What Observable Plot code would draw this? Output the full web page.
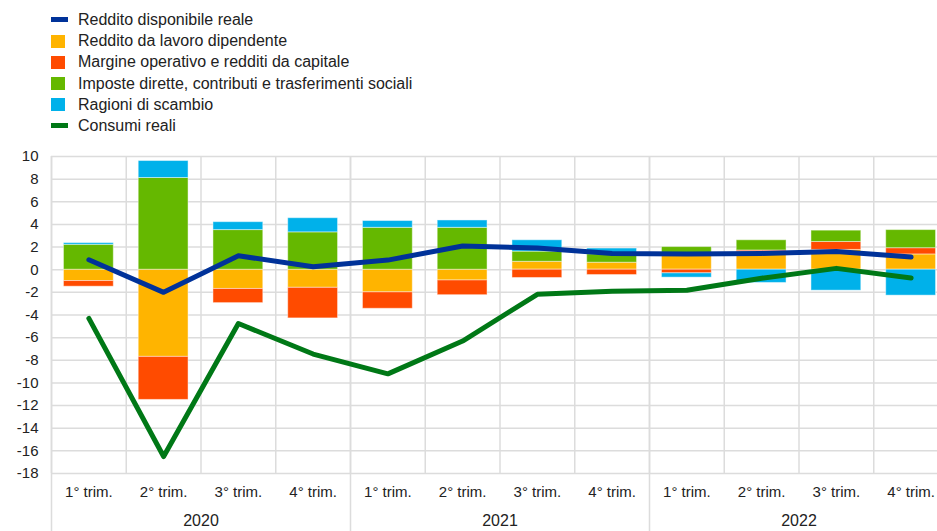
<!DOCTYPE html>
<html>
<head>
<meta charset="utf-8">
<script src="https://cdn.jsdelivr.net/npm/d3@7"></script>
<script src="https://cdn.jsdelivr.net/npm/@observablehq/plot@0.6"></script>
<style>
  html, body { margin: 0; padding: 0; background: #fff; overflow: hidden; }
  body { font-family: "Liberation Sans", Arial, sans-serif; color: #222; }
  #wrap { width: 937px; height: 531px; overflow: hidden; position: relative; }
  #legend { height: 145px; box-sizing: border-box; padding-top: 9.4px; }
  .item { height: 21.2px; display: flex; align-items: center; font-size: 16px; position: relative; }
  .sw { position: absolute; left: 51px; }
  .sw.box { width: 14px; height: 13px; }
  .sw.line { width: 17px; height: 5px; }
  .lbl { position: absolute; left: 78px; white-space: nowrap; }
  #chart svg { display: block; overflow: visible; max-width: none !important; width: 948px !important; height: 386px !important; }
</style>
</head>
<body>
<div id="wrap">
  <div id="legend"></div>
  <div id="chart"></div>
</div>
<script>
// ---- data ----
const quarters = ["1° trim.", "2° trim.", "3° trim.", "4° trim.", "1° trim.", "2° trim.", "3° trim.", "4° trim.", "1° trim.", "2° trim.", "3° trim.", "4° trim."];
const years = ["2020", "2021", "2022"];
const yTicks = [-18, -16, -14, -12, -10, -8, -6, -4, -2, 0, 2, 4, 6, 8, 10];

const lavoro  = [-1.0, -7.7, -1.7, -1.6, -2.0, -0.95, 0.7, 0.62, 1.4, 1.6, 1.75, 1.35];
const margine = [-0.5, -3.8, -1.25, -2.7, -1.45, -1.3, -0.73, -0.47, -0.32, 0.1, 0.7, 0.55];
const imposte = [2.2, 8.1, 3.5, 3.3, 3.7, 3.7, 0.9, 0.75, 0.6, 0.9, 1.0, 1.6];
const ragioni = [0.15, 1.5, 0.7, 1.25, 0.6, 0.65, 1.0, 0.5, -0.38, -1.17, -1.85, -2.29];
const reddito = [0.88, -2.0, 1.23, 0.26, 0.85, 2.09, 1.91, 1.44, 1.38, 1.44, 1.61, 1.12];
const consumi = [-4.3, -16.5, -4.75, -7.45, -9.2, -6.3, -2.17, -1.9, -1.82, -0.75, 0.12, -0.73];

const names = {
  reddito: "Reddito disponibile reale",
  lavoro: "Reddito da lavoro dipendente",
  margine: "Margine operativo e redditi da capitale",
  imposte: "Imposte dirette, contributi e trasferimenti sociali",
  ragioni: "Ragioni di scambio",
  consumi: "Consumi reali"
};
const colors = {
  reddito: "#003299",
  lavoro: "#ffb400",
  margine: "#ff4b00",
  imposte: "#65b800",
  ragioni: "#00b1ea",
  consumi: "#007816"
};

// ---- legend ----
const legendItems = [
  ["reddito", "line"], ["lavoro", "box"], ["margine", "box"],
  ["imposte", "box"], ["ragioni", "box"], ["consumi", "line"]
];
const legend = document.getElementById("legend");
for (const [k, kind] of legendItems) {
  const it = document.createElement("div");
  it.className = "item";
  it.innerHTML = `<span class="sw ${kind}" style="background:${colors[k]}"></span><span class="lbl">${names[k]}</span>`;
  legend.appendChild(it);
}

// ---- stacked bars (positives and negatives stacked separately) ----
const stackSeries = [["lavoro", lavoro], ["margine", margine], ["imposte", imposte], ["ragioni", ragioni]];
const bars = [];
for (let i = 0; i < quarters.length; i++) {
  let pos = 0, neg = 0;
  for (const [k, vals] of stackSeries) {
    const v = vals[i];
    if (v >= 0) { bars.push({i, k, y1: pos, y2: pos + v}); pos += v; }
    else { bars.push({i, k, y1: neg, y2: neg + v}); neg += v; }
  }
}
const idx = d3.range(quarters.length);
const bounds = d3.range(quarters.length + 1);
const yearBounds = [0, 4, 8, 12];

const chart = Plot.plot({
  width: 948,
  height: 386,
  marginLeft: 51,
  marginRight: 0,
  marginTop: 11,
  marginBottom: 58,
  style: { fontFamily: "Liberation Sans, Arial, sans-serif", fontSize: "15px", color: "#222", background: "transparent" },
  x: { domain: [0, 12], axis: null },
  y: { domain: [-18, 10], ticks: yTicks, tickSize: 0, tickPadding: 13, label: null, tickFormat: d => String(d) },
  marks: [
    Plot.ruleY(yTicks, { stroke: "#dcdcdc", strokeWidth: 1.5 }),
    Plot.ruleX(bounds, { stroke: "#dcdcdc", strokeWidth: 1.5 }),
    Plot.ruleX(yearBounds, { stroke: "#dcdcdc", strokeWidth: 1.5, insetBottom: -58 }),
    Plot.rect(bars, {
      x1: d => d.i + 1 / 6, x2: d => d.i + 5 / 6, y1: "y1", y2: "y2",
      fill: d => colors[d.k], stroke: "#fff", strokeOpacity: 0.45, strokeWidth: 1
    }),
    Plot.line(idx, { x: i => i + 0.5, y: i => reddito[i], stroke: colors.reddito, strokeWidth: 5, strokeLinecap: "round" }),
    Plot.line(idx, { x: i => i + 0.5, y: i => consumi[i], stroke: colors.consumi, strokeWidth: 5, strokeLinecap: "round" }),
    Plot.text(idx, { x: i => i + 0.5, frameAnchor: "bottom", dy: 23, text: i => quarters[i], fontSize: 15, fill: "#222" }),
    Plot.text(years, { x: (d, j) => j * 4 + 2, frameAnchor: "bottom", dy: 52, text: d => d, fontSize: 16, fill: "#222" })
  ]
});
document.getElementById("chart").appendChild(chart);
</script>
</body>
</html>
